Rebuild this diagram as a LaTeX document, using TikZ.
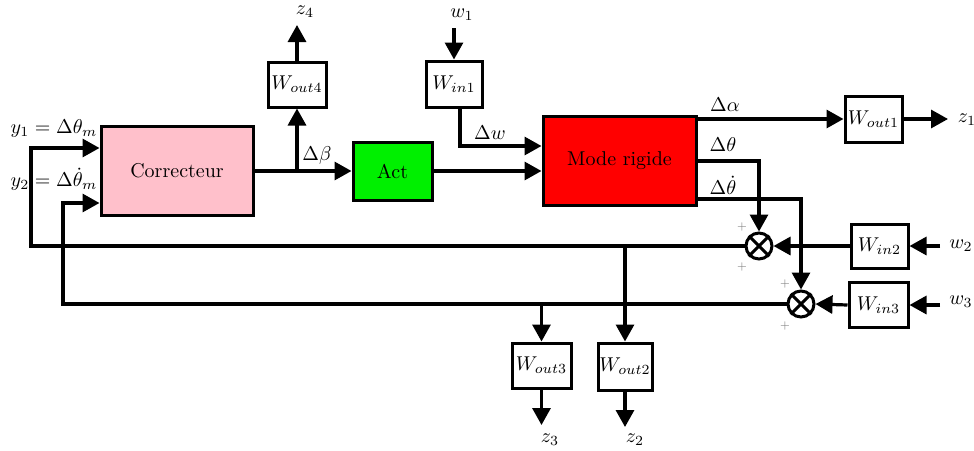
\documentclass[tikz,border=0pt]{standalone}
\usetikzlibrary{arrows.meta}
\definecolor{pinkc}{RGB}{255,192,203}
\definecolor{greenc}{RGB}{0,240,0}
\definecolor{redc}{RGB}{255,0,0}
\begin{document}
\begin{tikzpicture}[x=0.5pt,y=-0.5pt, line width=1.6pt,
  >={Triangle[length=8.5pt,width=9pt]},
  blk/.style={draw, rectangle, inner sep=0pt, line width=1.5pt},
  sumc/.style={draw, circle, minimum size=13pt, inner sep=0pt, line width=1.5pt},
  plussign/.style={text=gray, font=\tiny, inner sep=0pt}]
\useasboundingbox (0,0) rectangle (974,450);
% blocks
\node[blk, fill=pinkc, minimum width=76pt, minimum height=44.5pt] (corr) at (177,171) {Correcteur};
\node[blk, fill=greenc, minimum width=39.5pt, minimum height=29pt] (act) at (392.5,171) {Act};
\node[blk, fill=redc, minimum width=76.5pt, minimum height=44.5pt] (mode) at (619.5,160.5) {Mode rigide};
\node[blk, minimum width=29pt, minimum height=22.5pt] (wout4) at (297,84.5) {$W_{out4}$};
\node[blk, minimum width=28pt, minimum height=23pt] (win1) at (454,84) {$W_{in1}$};
\node[blk, minimum width=28.5pt, minimum height=23pt] (wout1) at (873.5,119) {$W_{out1}$};
\node[blk, minimum width=28.5pt, minimum height=22pt] (win2) at (879.5,246) {$W_{in2}$};
\node[blk, minimum width=29.5pt, minimum height=22.5pt] (win3) at (878.5,305) {$W_{in3}$};
\node[blk, minimum width=27pt, minimum height=23.5pt] (wout2) at (625,366.5) {$W_{out2}$};
\node[blk, minimum width=29.5pt, minimum height=22.5pt] (wout3) at (541.5,365.5) {$W_{out3}$};
% summing junctions
\node[sumc] (s1) at (759,246) {};
\node[sumc] (s2) at (801,304) {};
\draw[line width=1.5pt] (s1.north west) -- (s1.south east) (s1.north east) -- (s1.south west);
\draw[line width=1.5pt] (s2.north west) -- (s2.south east) (s2.north east) -- (s2.south west);
% free ends and branch points
\coordinate (z4e) at (297,25);
\coordinate (w1s) at (454,28);
\coordinate (z1e) at (948,119);
\coordinate (w2s) at (940,246);
\coordinate (w3s) at (940,305);
\coordinate (z2e) at (625,427);
\coordinate (z3e) at (541.5,425);
\coordinate (bbeta) at (297,171);
\coordinate (fb1) at (31,246);
\coordinate (fb2) at (63,304);
\coordinate (br2) at (625,246);
\coordinate (br3) at (541.5,304);
% connectors
\draw[->] (corr.east) -- (act.west);
\draw[->] (bbeta) -- (wout4.south);
\draw[->] (wout4.north) -- (z4e);
\draw[->] (w1s) -- (win1.north);
\draw[->] (win1.south -| 460,0) |- (mode.west |- 0,146);
\draw[->] (act.east) -- (mode.west |- act.east);
\draw[->] (mode.east |- wout1.west) -- (wout1.west);
\draw[->] (wout1.east) -- (z1e);
\draw[->] (mode.east |- 0,161) -| (s1.north);
\draw[->] (mode.east |- 0,199) -| (s2.north);
\draw[->] (w2s) -- (win2.east);
\draw[->] (win2.west) -- (s1.east);
\draw[->] (w3s) -- (win3.east);
\draw[->] (win3.west) -- (s2.east);
\draw[->] (s1.west) -- (fb1) |- (corr.west |- 0,148);
\draw[->] (s2.west) -- (fb2) |- (corr.west |- 0,203);
\draw[->] (br2) -- (wout2.north);
\draw[->] (wout2.south) -- (z2e);
\draw[->] (br3) -- (wout3.north);
\draw[->] (wout3.south) -- (z3e);
% labels
\node (ly1) at (54,128) {$y_1=\Delta\theta_m$};
\node (ly2) at (54,179) {$y_2=\Delta\dot\theta_m$};
\node (lbeta) at (317,155) {$\Delta\beta$};
\node (ldw) at (490,133) {$\Delta w$};
\node (lalpha) at (725,105) {$\Delta\alpha$};
\node (ltheta) at (723,145) {$\Delta\theta$};
\node (lthetad) at (723,185) {$\Delta\dot\theta$};
\node (lz4) at (305,12) {$z_4$};
\node (lw1) at (462,15) {$w_1$};
\node (lz1) at (967,120) {$z_1$};
\node (lw2) at (961,246) {$w_2$};
\node (lw3) at (961,302) {$w_3$};
\node (lz2) at (635,440) {$z_2$};
\node (lz3) at (550,440) {$z_3$};
\node[plussign] (p1) at (742,227) {$+$};
\node[plussign] (p2) at (742,267) {$+$};
\node[plussign] (p3) at (785,284) {$+$};
\node[plussign] (p4) at (785,326) {$+$};
\end{tikzpicture}
\end{document}
